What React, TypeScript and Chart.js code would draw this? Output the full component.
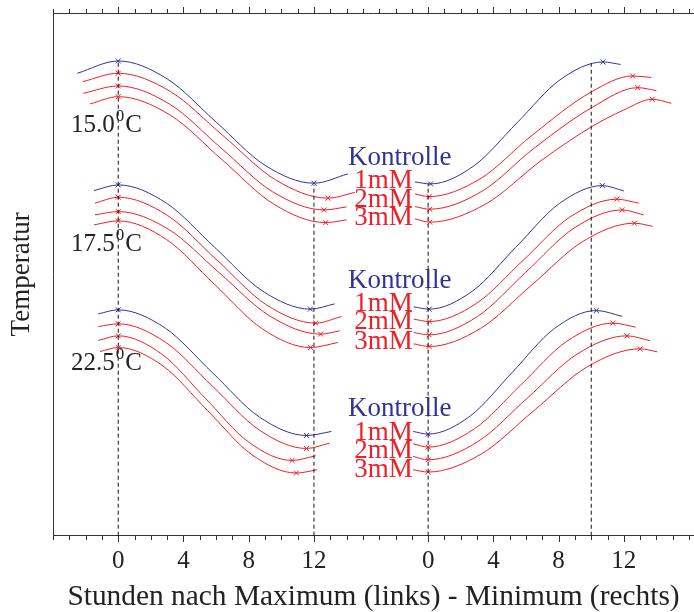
import React, { useEffect, useRef } from 'react';
import { Chart, registerables } from 'chart.js';

Chart.register(...registerables);

// ---------- data ----------
const seriesNames = ['Kontrolle', '1mM', '2mM', '3mM'];
const temperatures = ['15.0', '17.5', '22.5'];
const leftTickHours = [0, 4, 8, 12];
const rightTickHours = [0, 4, 8, 12];
const RIGHT_OFFSET = 19; // right panel (hours after minimum) drawn after the left panel
const X_MIN = -4;
const X_MAX = 35.3;
const Y_MIN = 0;
const Y_MAX = 523;

// dashed reference lines: [hour, top temperature]
const leftDashed = [[0, 475], [12, 351]];
const rightDashed = [[0, 352], [10, 473]];

// curves: [hour, temperature (rel.)]
// 15.0 °C, left panel (hours after maximum)
const k15L = [[-2.51, 462.7], [0, 475], [3, 457.1], [6, 413.9], [9, 370.6], [12, 352.7], [14.08, 362]];
const a15L = [[-2.18, 454.3], [0, 462.7], [3.2, 444.4], [6.43, 400.2], [9.65, 356], [12.86, 337.7], [14.5, 343.5]];
const b15L = [[-2.14, 442.7], [0, 450], [3.15, 431.8], [6.3, 388], [9.46, 344.2], [12.61, 326], [14, 329]];
const c15L = [[-1.73, 432], [0, 439.3], [3.18, 420.9], [6.36, 376.3], [9.54, 331.7], [12.72, 313.3], [14, 316]];
// 15.0 °C, right panel (hours after minimum)
const k15R = [[-0.81, 354], [0.15, 352], [2.79, 369.9], [5.44, 413], [8.08, 456.1], [10.72, 474], [11.8, 471.5]];
const a15R = [[-0.81, 342], [0.06, 339.3], [3.18, 357], [6.3, 399.7], [10, 444], [12.54, 460], [13.68, 458.5]];
const b15R = [[-0.81, 329.3], [0.1, 326.7], [3.29, 344.5], [6.48, 387.5], [10, 428], [12.85, 448.3], [13.99, 445.3]];
const c15R = [[-0.81, 317], [0.1, 313.7], [3.51, 331.7], [6.92, 375.2], [10, 409], [12, 426], [13.74, 436.7], [14.9, 432.7]];
// 17.5 °C
const k17L = [[-1.49, 345.3], [0, 351], [2.95, 332.8], [5.89, 288.9], [8.84, 244.9], [11.78, 226.7], [13.27, 232]];
const a17L = [[-1.43, 332.7], [0, 338.7], [3.03, 320.3], [6.06, 275.7], [9.08, 231.1], [12.11, 212.7], [13.68, 219.3]];
const b17L = [[-1.43, 321], [0, 324.3], [3.1, 306.4], [6.2, 263], [9.31, 219.6], [12.41, 201.7], [13.58, 205]];
const c17L = [[-1.49, 311], [0, 315], [2.95, 296.5], [5.89, 251.7], [8.84, 206.9], [11.78, 188.3], [13.47, 193.3]];
const k17R = [[-0.88, 229], [0.06, 226.7], [2.72, 244.8], [5.37, 288.5], [8.03, 332.2], [10.68, 350.3], [12, 345]];
const a17R = [[-0.88, 216.7], [0.06, 214.3], [2.94, 232.2], [5.82, 275.5], [8.69, 318.8], [11.57, 336.7], [12.92, 332.7]];
const b17R = [[-0.88, 203.3], [0.06, 201], [3.02, 219.3], [5.98, 263.5], [8.94, 307.7], [11.9, 326], [13.21, 321]];
const c17R = [[-0.88, 192], [0.06, 189.3], [3.21, 207.4], [6.36, 251], [9.5, 294.6], [12.65, 312.7], [13.77, 309.5]];
// 22.5 °C
const k22L = [[-1.22, 222], [0, 226], [2.89, 207.6], [5.77, 163.2], [8.66, 118.7], [11.54, 100.3], [13.07, 104.3]];
const a22L = [[-1.22, 209.3], [0, 212], [2.89, 193.7], [5.77, 149.7], [8.66, 105.6], [11.54, 87.3], [12.96, 92.7]];
const b22L = [[-1.22, 195.3], [0, 200], [2.67, 181.7], [5.33, 137.7], [8, 93.6], [10.66, 75.3], [12.11, 80]];
const c22L = [[-1.12, 184.3], [0, 188.3], [2.73, 170], [5.46, 125.5], [8.19, 81.1], [10.92, 62.7], [12.19, 66]];
const k22R = [[-0.92, 104.3], [0, 101.7], [2.58, 119.8], [5.16, 163.5], [7.73, 207.2], [10.31, 225.3], [11.9, 219.5]];
const a22R = [[-0.92, 92], [0, 88.7], [2.83, 106.9], [5.67, 150.7], [8.5, 194.5], [11.33, 212.7], [12.72, 208.7]];
const b22R = [[-0.92, 79.3], [0, 76], [3.05, 94.2], [6.1, 138], [9.14, 181.8], [12.19, 200], [13.62, 195]];
const c22R = [[-0.92, 66], [0, 63.7], [3.25, 81.7], [6.5, 125.4], [9.75, 168.9], [13, 187], [14.05, 184]];

const leftCurves = [
  [k15L, a15L, b15L, c15L],
  [k17L, a17L, b17L, c17L],
  [k22L, a22L, b22L, c22L],
];
const rightCurves = [
  [k15R, a15R, b15R, c15R],
  [k17R, a17R, b17R, c17R],
  [k22R, a22R, b22R, c22R],
];

// ---------- layout / styles ----------
const FONT = '"Liberation Serif", "Times New Roman", serif';
const BLUE = 'rgb(50, 50, 150)';
const RED = 'rgb(240, 30, 40)';
const TEXT = '#222';
const AXIS = '#333';
const seriesColors = [BLUE, RED, RED, RED];

const legendLeftHour = 14.08; // "Kontrolle" left edge
const legendRightHour = 18.05; // "1mM".. right edge
const legendBaselines = [
  [371, 348, 329.3, 311],
  [248, 225, 207, 187],
  [119.3, 96, 78, 59],
];
const tempLabelHour = -2.9;
const tempBaselines = [404, 285, 166];

const majorTicks = [...leftTickHours, ...rightTickHours.map((h) => h + RIGHT_OFFSET)];

function isExtremum(ctx: any) {
  const d = ctx.dataset.data;
  const i = ctx.dataIndex;
  if (i <= 0 || i >= d.length - 1) return false;
  const p = d[i - 1].y, c = d[i].y, n = d[i + 1].y;
  return (c > p && c > n) || (c < p && c < n);
}

const decorPlugin = {
  id: 'decor',
  afterDraw(chart: any) {
    const { ctx, chartArea: a, scales } = chart;
    const x = scales.x, y = scales.y;
    ctx.save();
    ctx.strokeStyle = AXIS;
    ctx.lineWidth = 1;
    ctx.beginPath();
    ctx.moveTo(a.left, Math.round(a.top) + 0.5);
    ctx.lineTo(a.right, Math.round(a.top) + 0.5);
    for (let h = Math.ceil(X_MIN); h <= X_MAX; h++) {
      const len = majorTicks.includes(h) ? 6 : 4;
      const px = Math.round(x.getPixelForValue(h)) + 0.5;
      ctx.moveTo(px, Math.round(a.bottom));
      ctx.lineTo(px, Math.round(a.bottom) + len);
      ctx.moveTo(px, Math.round(a.top));
      ctx.lineTo(px, Math.round(a.top) - len);
    }
    ctx.stroke();

    // series labels
    ctx.textBaseline = 'alphabetic';
    legendBaselines.forEach((bases) => {
      bases.forEach((b, s) => {
        ctx.fillStyle = seriesColors[s];
        ctx.font = `27px ${FONT}`;
        if (s === 0) {
          ctx.textAlign = 'left';
          ctx.fillText(seriesNames[s], x.getPixelForValue(legendLeftHour), y.getPixelForValue(b));
        } else {
          ctx.textAlign = 'right';
          ctx.fillText(seriesNames[s], x.getPixelForValue(legendRightHour), y.getPixelForValue(b));
        }
      });
    });

    // temperature labels with superscript 0
    ctx.textAlign = 'left';
    ctx.fillStyle = TEXT;
    temperatures.forEach((t, g) => {
      const x0 = x.getPixelForValue(tempLabelHour);
      const yb = y.getPixelForValue(tempBaselines[g]);
      ctx.font = `25px ${FONT}`;
      ctx.fillText(t, x0, yb);
      const w1 = ctx.measureText(t).width;
      ctx.font = `17px ${FONT}`;
      ctx.fillText('0', x0 + w1 + 1, yb - 11);
      const w2 = ctx.measureText('0').width;
      ctx.font = `25px ${FONT}`;
      ctx.fillText('C', x0 + w1 + w2 + 2, yb);
    });
    ctx.restore();
  },
};

export default function App() {
  const ref = useRef<HTMLCanvasElement | null>(null);
  useEffect(() => {
    document.body.style.margin = '0';
    const canvas = ref.current;
    if (!canvas) return;

    const datasets: any[] = [];
    const addDashed = (arr: number[][], off: number) => {
      arr.forEach(([h, top]) => {
        datasets.push({
          data: [{ x: h + off, y: Y_MIN }, { x: h + off, y: top }],
          borderColor: '#111',
          borderWidth: 1,
          borderDash: [4, 3],
          pointRadius: 0,
          fill: false,
        });
      });
    };
    addDashed(leftDashed, 0);
    addDashed(rightDashed, RIGHT_OFFSET);

    const addCurves = (groups: number[][][][], off: number) => {
      groups.forEach((group) => {
        group.forEach((pts, s) => {
          const c = seriesColors[s];
          datasets.push({
            data: pts.map(([h, v]) => ({ x: h + off, y: v })),
            borderColor: c,
            backgroundColor: c,
            borderWidth: 1,
            pointStyle: 'crossRot',
            pointBorderColor: c,
            pointBorderWidth: 1,
            pointRadius: (ctx: any) => (isExtremum(ctx) ? 3.5 : 0),
            cubicInterpolationMode: 'monotone',
            fill: false,
          });
        });
      });
    };
    addCurves(leftCurves, 0);
    addCurves(rightCurves, RIGHT_OFFSET);

    const chart = new Chart(canvas, {
      type: 'line',
      data: { datasets },
      options: {
        responsive: false,
        animation: false,
        events: [],
        layout: { padding: { left: 6, top: 13, right: 0, bottom: -11 } },
        plugins: { legend: { display: false }, tooltip: { enabled: false }, title: { display: false } },
        scales: {
          x: {
            type: 'linear',
            min: X_MIN,
            max: X_MAX,
            grid: { display: false, drawTicks: false },
            border: { display: true, color: AXIS, width: 1 },
            afterBuildTicks: (scale: any) => {
              scale.ticks = majorTicks.map((v) => ({ value: v }));
            },
            ticks: {
              padding: 11,
              maxRotation: 0,
              autoSkip: false,
              color: TEXT,
              font: { size: 25, family: FONT, lineHeight: 1.2 },
              callback: (v: any) => String(v >= RIGHT_OFFSET - 2 ? v - RIGHT_OFFSET : v),
            },
            title: {
              display: true,
              text: 'Stunden nach Maximum (links) - Minimum (rechts)',
              color: TEXT,
              font: { size: 29.4, family: FONT, lineHeight: 1.2 },
              padding: { top: -8, bottom: 8 },
            },
          },
          y: {
            type: 'linear',
            min: Y_MIN,
            max: Y_MAX,
            grid: { display: false, drawTicks: false },
            border: { display: true, color: AXIS, width: 1 },
            ticks: { display: false },
            title: {
              display: true,
              text: 'Temperatur',
              color: TEXT,
              font: { size: 27, family: FONT, lineHeight: 1.2 },
              padding: { top: 0, bottom: 14.6 },
            },
          },
        },
      },
      plugins: [decorPlugin],
    } as any);
    return () => chart.destroy();
  }, []);

  return <canvas ref={ref} width={694} height={612} style={{ display: 'block', width: 694, height: 612 }} />;
}
